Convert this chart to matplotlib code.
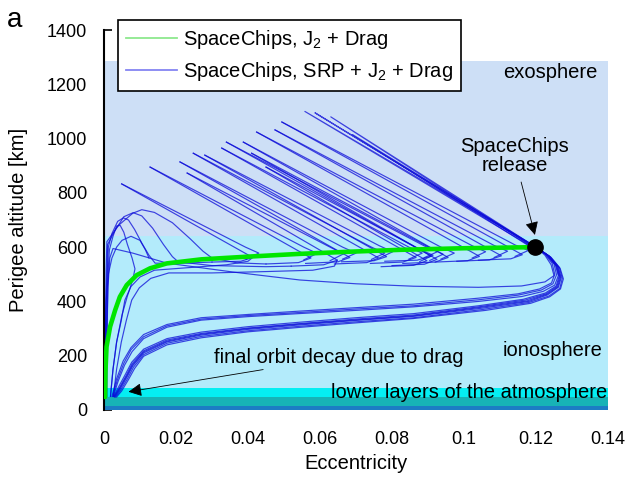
import matplotlib
matplotlib.use("Agg")
import matplotlib.pyplot as plt
from matplotlib.lines import Line2D

plt.rcParams['font.family'] = ['Liberation Sans', 'DejaVu Sans']
plt.rcParams['mathtext.fontset'] = 'custom'
plt.rcParams['mathtext.rm'] = 'Liberation Sans'
plt.rcParams['mathtext.it'] = 'Liberation Sans:italic'

# atmosphere layers (altitude in km)
layer_bottoms = [0, 15, 48, 80, 640]
layer_tops = [15, 48, 80, 640, 1285]
layer_colors = ['#1c7cc4', '#17b3b6', '#05eef2', '#b3ebfb', '#cddff6']

release_e = 0.1197
release_h = 600

x_ticks = [0, 0.02, 0.04, 0.06, 0.08, 0.1, 0.12, 0.14]
x_tick_labels = ['0', '0.02', '0.04', '0.06', '0.08', '0.1', '0.12', '0.14']
y_ticks = [0, 200, 400, 600, 800, 1000, 1200, 1400]

# J2 + drag case
green_e = [0.120, 0.100, 0.082, 0.068, 0.054, 0.040, 0.027, 0.0174, 0.0128,
           0.0091, 0.0063, 0.0044, 0.0031, 0.0017, 0.0007, 0.0004, 0.0003]
green_h = [600, 596, 590, 583, 575, 565, 555, 540, 522,
           497, 460, 417, 368, 307, 233, 140, 48]

# SRP + J2 + drag: swing past release and slow decay along the lower bundle
lower_paths = [
    [(0.120, 600), (0.1225, 575), (0.1245, 540), (0.1252, 500), (0.1243, 468), (0.121, 446), (0.115, 428),
     (0.104, 412), (0.086, 390), (0.070, 377), (0.054, 364), (0.040, 352), (0.027, 340), (0.0175, 315),
     (0.011, 278), (0.0075, 230), (0.0053, 180), (0.0035, 115), (0.0022, 50)],
    [(0.120, 600), (0.1228, 573), (0.1250, 538), (0.1257, 498), (0.1247, 465), (0.1215, 442), (0.115, 423),
     (0.104, 406), (0.086, 384), (0.070, 372), (0.054, 359), (0.040, 348), (0.027, 335), (0.0175, 310),
     (0.011, 270), (0.0075, 222), (0.0055, 172), (0.0037, 110), (0.0024, 50)],
    [(0.120, 600), (0.1232, 570), (0.1254, 534), (0.1262, 495), (0.1252, 460), (0.122, 437), (0.116, 418),
     (0.104, 400), (0.086, 380), (0.070, 367), (0.054, 355), (0.040, 344), (0.027, 331), (0.0175, 305),
     (0.011, 263), (0.0078, 215), (0.0057, 165), (0.0039, 105), (0.0026, 50)],
    [(0.120, 600), (0.1235, 568), (0.1258, 530), (0.1266, 490), (0.1258, 455), (0.1228, 428), (0.117, 405),
     (0.104, 380), (0.086, 350), (0.070, 335), (0.054, 318), (0.040, 302), (0.027, 282), (0.0175, 258),
     (0.011, 218), (0.0078, 170), (0.0062, 128), (0.0042, 80), (0.0028, 50)],
    [(0.120, 600), (0.1238, 566), (0.1262, 527), (0.1270, 487), (0.1262, 452), (0.1232, 424), (0.118, 400),
     (0.105, 375), (0.086, 345), (0.070, 330), (0.054, 313), (0.040, 297), (0.027, 276), (0.0175, 251),
     (0.011, 210), (0.0080, 163), (0.0064, 122), (0.0044, 75), (0.0030, 48)],
    [(0.120, 600), (0.1240, 564), (0.1265, 525), (0.1273, 485), (0.1266, 448), (0.1236, 420), (0.118, 396),
     (0.105, 370), (0.086, 340), (0.070, 325), (0.054, 308), (0.040, 292), (0.027, 271), (0.0175, 246),
     (0.011, 204), (0.0082, 158), (0.0066, 117), (0.0046, 72), (0.0032, 48)],
    [(0.120, 600), (0.1236, 567), (0.1260, 528), (0.1268, 488), (0.1260, 453), (0.1230, 426), (0.1175, 402),
     (0.104, 377), (0.086, 347), (0.070, 332), (0.054, 316), (0.040, 300), (0.027, 279), (0.0175, 254),
     (0.011, 214), (0.0079, 166), (0.0063, 125), (0.0043, 78), (0.0029, 49)],
    [(0.120, 600), (0.1242, 562), (0.1267, 522), (0.1276, 483), (0.1268, 446), (0.1238, 417), (0.1185, 393),
     (0.106, 367), (0.086, 337), (0.070, 321), (0.054, 304), (0.040, 288), (0.027, 266), (0.0175, 240),
     (0.011, 198), (0.0085, 153), (0.0068, 112), (0.0049, 70), (0.0035, 48)],
    [(0.120, 600), (0.1233, 569), (0.1256, 532), (0.1264, 492), (0.1256, 457), (0.1226, 431), (0.1165, 408),
     (0.104, 384), (0.086, 355), (0.070, 340), (0.054, 323), (0.040, 307), (0.027, 287), (0.0175, 263),
     (0.011, 224), (0.0077, 176), (0.0060, 133), (0.0040, 84), (0.0027, 50)],
]

# middle return path
middle_path = [(0.0005, 50), (0.0007, 250), (0.0011, 450), (0.0016, 560), (0.0025, 595), (0.008, 578),
               (0.0175, 541), (0.036, 508), (0.0544, 479), (0.070, 465), (0.086, 456), (0.104, 452),
               (0.116, 457), (0.1225, 472), (0.1250, 495), (0.1242, 535), (0.1225, 570), (0.120, 600)]

# spikes: strand -> loop bulge -> tip
spike_paths = [
    [(0.030, 545), (0.038, 548), (0.0413, 562), (0.0049, 833)],
    [(0.045, 538), (0.054, 543), (0.0575, 560), (0.0128, 895)],
    [(0.056, 540), (0.065, 546), (0.0683, 562), (0.0211, 914)],
    [(0.052, 530), (0.061, 535), (0.0648, 552), (0.0231, 873)],
    [(0.064, 538), (0.073, 543), (0.0763, 560), (0.0248, 946)],
    [(0.066, 546), (0.075, 550), (0.0785, 565), (0.0280, 939)],
    [(0.074, 540), (0.083, 545), (0.0867, 562), (0.0327, 965)],
    [(0.078, 548), (0.087, 552), (0.0909, 567), (0.0340, 987)],
    [(0.083, 540), (0.092, 545), (0.0956, 562), (0.0387, 987)],
    [(0.080, 532), (0.089, 537), (0.0925, 555), (0.0410, 946)],
    [(0.092, 545), (0.101, 550), (0.1043, 566), (0.0424, 1024)],
    [(0.077, 528), (0.086, 533), (0.0897, 550), (0.0450, 895)],
    [(0.098, 548), (0.107, 553), (0.1104, 568), (0.0475, 1032)],
    [(0.104, 552), (0.113, 557), (0.1162, 572), (0.0494, 1061)],
]

# second strand of each spike, ending in a small loop
spike_returns = [
    [(0.0049, 833), (0.0393, 600), (0.0430, 578), (0.0395, 556)],
    [(0.0128, 895), (0.0555, 600), (0.0592, 577), (0.0555, 553)],
    [(0.0211, 914), (0.0663, 600), (0.0700, 578), (0.0663, 556)],
    [(0.0231, 873), (0.0628, 600), (0.0665, 575), (0.0628, 550)],
    [(0.0248, 946), (0.0743, 600), (0.0780, 578), (0.0743, 555)],
    [(0.0280, 939), (0.0765, 605), (0.0802, 583), (0.0765, 560)],
    [(0.0327, 965), (0.0847, 600), (0.0884, 578), (0.0847, 556)],
    [(0.0340, 987), (0.0889, 605), (0.0926, 583), (0.0889, 561)],
    [(0.0387, 987), (0.0936, 600), (0.0973, 578), (0.0936, 556)],
    [(0.0410, 946), (0.0905, 598), (0.0942, 574), (0.0905, 551)],
    [(0.0424, 1024), (0.1023, 605), (0.1060, 583), (0.1023, 560)],
    [(0.0450, 895), (0.0877, 592), (0.0914, 570), (0.0877, 547)],
    [(0.0475, 1032), (0.1084, 606), (0.1121, 585), (0.1084, 562)],
    [(0.0494, 1061), (0.1142, 608), (0.1179, 588), (0.1142, 566)],
]

# longest spikes going straight back to the release point
release_spikes = [
    [(0.1200, 600), (0.0558, 1100), (0.1195, 596)],
    [(0.1200, 600), (0.0586, 1095), (0.1198, 598)],
    [(0.1200, 600), (0.0630, 1080), (0.1196, 597)],
    [(0.1200, 600), (0.0690, 1015), (0.1193, 594)],
]

# hooks near zero eccentricity
hook_paths = [
    [(0.0008, 50), (0.0009, 300), (0.0011, 500), (0.0015, 590), (0.0025, 640), (0.0035, 678), (0.0045, 680),
     (0.0055, 655), (0.0065, 610), (0.0078, 560), (0.0086, 520), (0.0080, 480), (0.0065, 420), (0.0050, 350),
     (0.0035, 250), (0.0025, 150), (0.0018, 50)],
    [(0.0006, 50), (0.0007, 300), (0.0009, 500), (0.0012, 600), (0.0022, 650), (0.0038, 695), (0.0054, 708),
     (0.0068, 700), (0.0085, 665), (0.0105, 615), (0.0125, 570), (0.0142, 541), (0.020, 540), (0.030, 545)],
    [(0.0003, 50), (0.0005, 350), (0.0010, 610), (0.0030, 660), (0.0055, 712), (0.0081, 727), (0.0105, 715),
     (0.0135, 670), (0.0165, 610), (0.0190, 565), (0.0206, 546), (0.030, 532), (0.045, 528), (0.052, 530)],
    [(0.0002, 50), (0.0004, 300), (0.0006, 520), (0.0008, 620), (0.004, 680), (0.008, 725), (0.0105, 738),
     (0.014, 728), (0.019, 690), (0.024, 630), (0.0275, 585), (0.030, 560), (0.037, 542), (0.045, 538)],
]

# decay curves either side of the green one
fan_paths = [
    [(0.0002, 50), (0.0003, 250), (0.0006, 400), (0.0012, 500), (0.0022, 560), (0.0035, 600), (0.0050, 625),
     (0.0075, 640), (0.010, 625), (0.0115, 590), (0.0125, 560)],
    [(0.0018, 50), (0.0025, 150), (0.0035, 250), (0.0048, 330), (0.0058, 405), (0.0075, 455), (0.0100, 490),
     (0.0140, 515), (0.024, 525), (0.034, 535), (0.040, 548), (0.0413, 562)],
    [(0.0026, 50), (0.0035, 150), (0.0048, 250), (0.0062, 330), (0.0077, 405), (0.0098, 450), (0.013, 485),
     (0.018, 505), (0.030, 505), (0.045, 510), (0.058, 515), (0.064, 530), (0.0648, 552)],
]

fig = plt.figure(figsize=(6.26, 4.8), dpi=100)
ax = fig.add_axes([104 / 626, 70 / 480, 504 / 626, 380 / 480])

for b, t, c in zip(layer_bottoms, layer_tops, layer_colors):
    ax.axhspan(b, t, color=c, lw=0, zorder=1)

blue = '#0a0ad8'
all_paths = lower_paths + [middle_path] + spike_paths + spike_returns + release_spikes + hook_paths + fan_paths
for path in all_paths:
    pe = [p[0] for p in path]
    ph = [p[1] for p in path]
    ax.plot(pe, ph, color=blue, lw=0.85, alpha=0.75, zorder=2)

ax.plot(green_e, green_h, color='#00e600', lw=3.3, zorder=3, solid_capstyle='round')
ax.plot(release_e, release_h, 'o', color='black', ms=11, zorder=6)

handles = [Line2D([], [], color='#8ee88e', lw=1.3), Line2D([], [], color='#8585f2', lw=1.3)]
labels = ['SpaceChips, J$_2$ + Drag', 'SpaceChips, SRP + J$_2$ + Drag']
leg = ax.legend(handles, labels, loc='upper left', bbox_to_anchor=(0.028, 1.026), borderaxespad=0,
                fancybox=False, edgecolor='black', framealpha=1, fontsize=14.5, handlelength=2.5,
                handletextpad=0.3, borderpad=0.4, labelspacing=0.45)
leg.get_frame().set_linewidth(1.2)
leg.set_zorder(10)

ax.text(0.1372, 1245, 'exosphere', ha='right', va='center', fontsize=14.5)
ax.text(0.1386, 221, 'ionosphere', ha='right', va='center', fontsize=14.5)
ax.text(0.1398, 63, 'lower layers of the atmosphere', ha='right', va='center', fontsize=14.5, zorder=5)

ax.annotate('SpaceChips\nrelease', xy=(0.1197, 645), xytext=(0.114, 935), ha='center', va='center',
            fontsize=14.5, linespacing=1.0,
            arrowprops=dict(arrowstyle='-|>', color='black', lw=0.6, mutation_scale=20, shrinkA=3, shrinkB=0))
ax.annotate('final orbit decay due to drag', xy=(0.0068, 67), xytext=(0.0306, 195), ha='left', va='center',
            fontsize=14.5,
            arrowprops=dict(arrowstyle='-|>', color='black', lw=0.6, mutation_scale=20, shrinkA=1, shrinkB=0))

ax.set_xlim(0, 0.14)
ax.set_ylim(0, 1400)
ax.set_xticks(x_ticks)
ax.set_xticklabels(x_tick_labels)
ax.set_yticks(y_ticks)
ax.set_axisbelow(True)
ax.tick_params(axis='y', direction='in', length=6, width=1.2, pad=12, labelsize=13)
ax.tick_params(axis='x', direction='in', length=0, pad=15, labelsize=13)
for s in ['top', 'right', 'bottom']:
    ax.spines[s].set_visible(False)
ax.spines['left'].set_linewidth(1.5)

ax.set_xlabel('Eccentricity', fontsize=14.5)
ax.set_ylabel('Perigee altitude [km]', fontsize=14.5)
ax.xaxis.set_label_coords(0.5, -0.115)
ax.yaxis.set_label_coords(-0.15, 0.5)

fig.text(7 / 626, 1 - 27 / 480, 'a', fontsize=20, ha='left', va='baseline')

fig.savefig('out.png', dpi=100)
